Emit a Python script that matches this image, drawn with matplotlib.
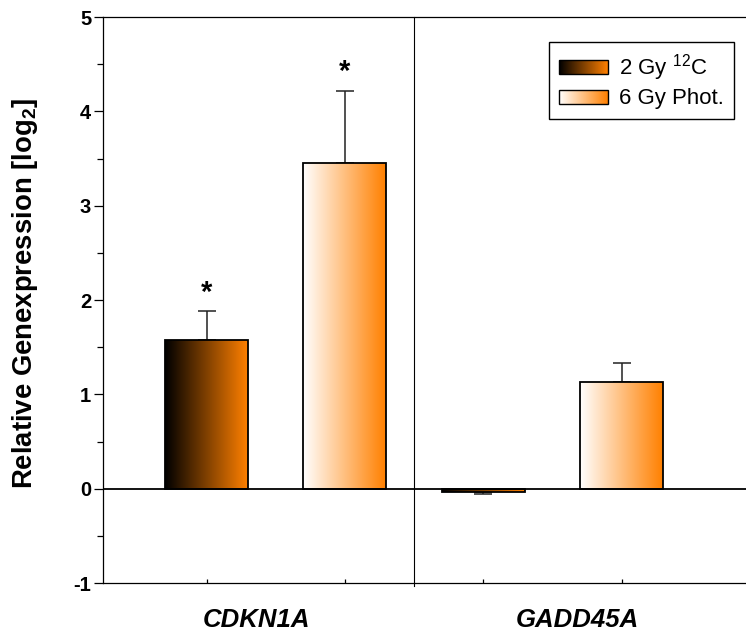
import numpy as np
import matplotlib
matplotlib.use('Agg')
import matplotlib.pyplot as plt
from matplotlib.colors import LinearSegmentedColormap
from matplotlib.legend_handler import HandlerBase
from matplotlib.image import BboxImage
from matplotlib.transforms import Bbox, TransformedBbox
from matplotlib.patches import Rectangle

plt.rcParams['font.family'] = ['Liberation Sans', 'DejaVu Sans']
plt.rcParams['mathtext.default'] = 'regular'
plt.rcParams['axes.unicode_minus'] = False

# data (log2 relative expression, mean +/- error)
genes = ['CDKN1A', 'GADD45A']
treatments = ['2 Gy $^{12}$C', '6 Gy Phot.']
carbon_mean = [1.58, -0.04]
carbon_err = [0.30, 0.02]
photon_mean = [3.45, 1.13]
photon_err = [0.77, 0.20]
carbon_sig = [True, False]
photon_sig = [True, False]

orange = '#ff8000'
cmap_carbon = LinearSegmentedColormap.from_list('carbon', ['#000000', orange])
cmap_photon = LinearSegmentedColormap.from_list('photon', ['#ffffff', orange])
gradient = np.linspace(0, 1, 256).reshape(1, -1)


class GradientHandler(HandlerBase):
    '''legend entry drawn as a horizontal gradient box'''
    def __init__(self, cmap):
        super().__init__()
        self.cmap = cmap

    def create_artists(self, legend, orig_handle, xdescent, ydescent,
                       width, height, fontsize, trans):
        h = height * 0.9
        y0 = -ydescent + (height - h) / 2
        bb = Bbox.from_bounds(-xdescent, y0, width, h)
        img = BboxImage(TransformedBbox(bb, trans), cmap=self.cmap,
                        interpolation='bilinear')
        img.set_data(gradient)
        frame = Rectangle((-xdescent, y0), width, h, facecolor='none',
                          edgecolor='black', lw=1.0, transform=trans)
        return [img, frame]


def gradient_bars(ax, x, means, errs, sig, cmap):
    bars = ax.bar(x, means, width=0.6, facecolor='none', edgecolor='black',
                  lw=1.3, zorder=3)
    for r in bars:
        x0, w = r.get_x(), r.get_width()
        y0, h = r.get_y(), r.get_height()
        im = ax.imshow(gradient, extent=[x0, x0 + w, y0, y0 + h], cmap=cmap,
                       aspect='auto', interpolation='bilinear', zorder=2)
        im.set_clip_path(r)
    means = np.array(means)
    errs = np.array(errs)
    lower = np.where(means < 0, errs, 0)
    upper = np.where(means >= 0, errs, 0)
    ax.errorbar(x, means, yerr=[lower, upper], fmt='none', ecolor='#222222',
                elinewidth=1.1, capsize=6.5, capthick=1.1, zorder=1)
    for xi, m, e, s in zip(x, means, errs, sig):
        if s:
            ax.text(xi, m + e + 0.05, '*', ha='center', va='bottom',
                    fontsize=21, fontweight='bold')
    return bars


fig = plt.figure(figsize=(7.46, 6.34), dpi=100)
ax = fig.add_axes([0.138, 0.0804, 0.862, 0.8927])

group = np.arange(len(genes)) * 2
bars_c = gradient_bars(ax, group, carbon_mean, carbon_err, carbon_sig, cmap_carbon)
bars_p = gradient_bars(ax, group + 1, photon_mean, photon_err, photon_sig, cmap_photon)

ax.axhline(0, color='black', lw=1.3, zorder=4)
ax.axvline(1.5, ymin=-0.006, color='black', lw=0.8, clip_on=False, zorder=4)

ax.set_xlim(-0.75, 3.9)
ax.set_ylim(-1, 5)

ax.spines['right'].set_visible(False)
for s in ['left', 'bottom', 'top']:
    ax.spines[s].set_linewidth(0.9)

ax.set_yticks(range(-1, 6))
ax.set_yticks(np.arange(-0.5, 5, 1), minor=True)
ax.tick_params(axis='y', which='major', direction='out', length=6.5,
               width=0.9, labelsize=14.5, pad=2)
ax.tick_params(axis='y', which='minor', direction='out', length=4.3, width=0.9)
for lab in ax.get_yticklabels():
    lab.set_fontweight('bold')

ax.set_xticks(np.concatenate([group, group + 1]))
ax.tick_params(axis='x', which='major', direction='in', length=3, width=0.9,
               labelbottom=False)
ax.set_xticks([0.36, 2.68], minor=True)
ax.set_xticklabels(genes, minor=True, fontsize=18.5, fontweight='bold',
                   fontstyle='italic')
ax.tick_params(axis='x', which='minor', length=0, pad=18)

ax.set_ylabel('Relative Genexpression [log$_2$]', fontsize=19.8, fontweight='bold')
ax.yaxis.set_label_coords(-0.098, 0.512)

leg = ax.legend([bars_c, bars_p], treatments,
                handler_map={bars_c: GradientHandler(cmap_carbon),
                             bars_p: GradientHandler(cmap_photon)},
                loc='upper right', bbox_to_anchor=(0.981, 0.956),
                borderaxespad=0, fancybox=False, framealpha=1,
                edgecolor='black', fontsize=16, handlelength=2.2,
                handleheight=0.7, labelspacing=0.25, handletextpad=0.5,
                borderpad=0.45)
leg.get_frame().set_linewidth(1.0)

fig.savefig('out.png', dpi=100)
